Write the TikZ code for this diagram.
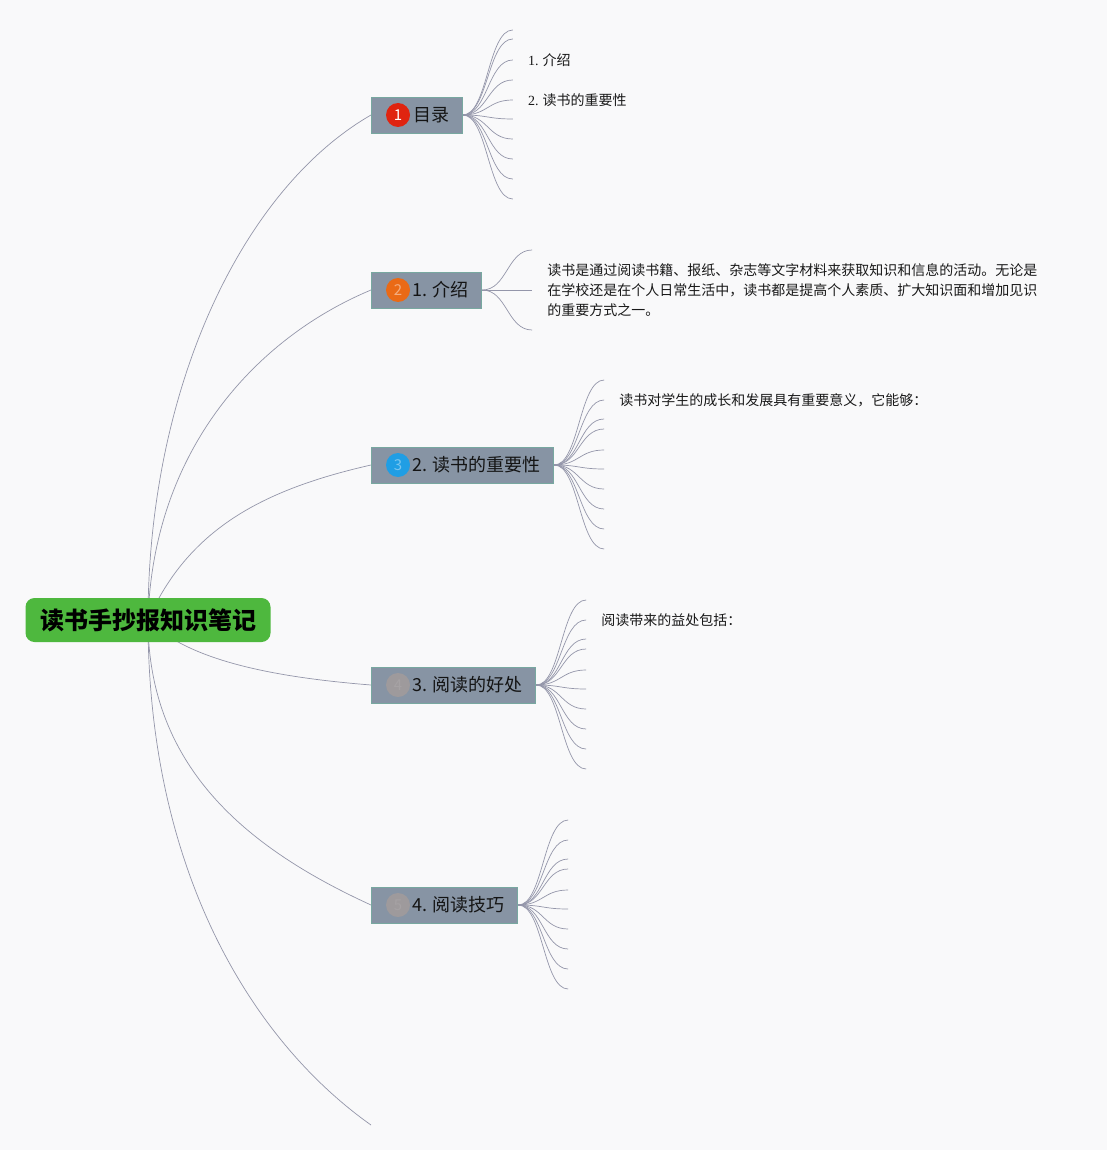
\documentclass[tikz,border=0pt]{standalone}
\usepackage{fontspec}
\setmainfont{Noto Sans CJK SC}
\newfontfamily\numfont{Liberation Serif}
\usetikzlibrary{positioning,calc,backgrounds}

\definecolor{bgcol}{RGB}{249,249,250}
\definecolor{rootfill}{RGB}{78,184,62}
\definecolor{topicfill}{RGB}{135,148,164}
\definecolor{topicline}{RGB}{120,168,160}
\definecolor{linkcol}{RGB}{148,150,170}
\definecolor{badgered}{RGB}{224,36,16}
\definecolor{badgeorange}{RGB}{234,106,22}
\definecolor{badgeblue}{RGB}{32,158,228}
\definecolor{badgegray}{RGB}{158,154,156}

\tikzset{
  root/.style={rectangle, rounded corners=9pt, fill=rootfill, minimum width=245pt, minimum height=44pt, inner sep=0pt, font=\fontsize{24}{26}\selectfont\bfseries},
  topic/.style={rectangle, fill=topicfill, draw=topicline, line width=0.8pt, anchor=west, minimum height=36pt, inner xsep=13pt, inner ysep=0pt, text=black!92, font=\fontsize{18}{20}\selectfont},
  badge/.style={circle, minimum size=24pt, inner sep=0pt, font=\fontsize{15}{15}\selectfont},
  link/.style={draw=linkcol, line width=0.7pt},
  leaf/.style={anchor=west, inner sep=0pt, align=left, text=black!90, font=\fontsize{14}{20}\selectfont},
}

\begin{document}
\begin{tikzpicture}[x=1pt, y=-1pt]

% root and topics
\node[root] (root) at (148,620) {读书手抄报知识笔记};

\node[topic] (t1) at (371,115) {\hspace*{29pt}目录};
\node[topic] (t2) at (371,290) {\hspace*{28pt}1. 介绍};
\node[topic] (t3) at (371,465) {\hspace*{28pt}2. 读书的重要性};
\node[topic] (t4) at (371,685) {\hspace*{28pt}3. 阅读的好处};
\node[topic] (t5) at (371,905) {\hspace*{28pt}4. 阅读技巧};
\coordinate (t6) at (371,1125);

% badges
\node[badge, fill=badgered, text=white] (n1) at ($(t1.west)+(27,0)$) {1};
\node[badge, fill=badgeorange, text=badgeorange!55!white] (n2) at ($(t2.west)+(27,0)$) {2};
\node[badge, fill=badgeblue, text=badgeblue!60!white] (n3) at ($(t3.west)+(27,0)$) {3};
\node[badge, fill=badgegray, text=badgegray!92!white] (n4) at ($(t4.west)+(27,0)$) {4};
\node[badge, fill=badgegray, text=badgegray!92!white] (n5) at ($(t5.west)+(27,0)$) {5};

% fan end points
\foreach \dy [count=\k] in {-85,-76,-55,-35,-15,4,24,44,64,84}
  \coordinate (t1-\k) at ($(t1.east)+(50,\dy)$);
\foreach \dy [count=\k] in {-40,0,40}
  \coordinate (t2-\k) at ($(t2.east)+(50,\dy)$);
\foreach \t in {t3,t4,t5}
  \foreach \dy [count=\k] in {-85,-65,-46,-36,-15,4,24,44,64,84}
    \coordinate (\t-\k) at ($(\t.east)+(50,\dy)$);

% leaves
\node[leaf] (l11) at ($(t1-3)+(15,0)$) {{\numfont 1.} 介绍};
\node[leaf] (l12) at ($(t1-5)+(15,0)$) {{\numfont 2.} 读书的重要性};
\node[leaf] (l21) at ($(t2-2)+(15,0)$) {读书是通过阅读书籍、报纸、杂志等文字材料来获取知识和信息的活动。无论是\\在学校还是在个人日常生活中，读书都是提高个人素质、扩大知识面和增加见识\\的重要方式之一。};
\node[leaf] (l31) at ($(t3-2)+(15,0)$) {读书对学生的成长和发展具有重要意义，它能够：};
\node[leaf] (l41) at ($(t4-2)+(15,0)$) {阅读带来的益处包括：};

\begin{scope}[on background layer]
\fill[bgcol] (0,0) rectangle (1107,1150);

% main branches
\draw[link] (root.center) .. controls +(0,-230) and +(-130,75) .. (t1.west);
\draw[link] (root.center) .. controls +(5,-170) and +(-115,48) .. (t2.west);
\draw[link] (root.center) .. controls +(40,-90) and +(-110,25) .. (t3.west);
\draw[link] (root.center) .. controls +(40,40) and +(-100,-8) .. (t4.west);
\draw[link] (root.center) .. controls +(0,150) and +(-120,-55) .. (t5.west);
\draw[link] (root.center) .. controls +(0,250) and +(-120,-85) .. (t6);

% fans
\foreach \k in {1,...,10}
  \draw[link] (t1.east) .. controls +(25,0) and +(-25,0) .. (t1-\k);
\foreach \k in {1,2,3}
  \draw[link] (t2.east) .. controls +(25,0) and +(-25,0) .. (t2-\k);
\foreach \t in {t3,t4,t5}
  \foreach \k in {1,...,10}
    \draw[link] (\t.east) .. controls +(25,0) and +(-25,0) .. (\t-\k);
\end{scope}

\end{tikzpicture}
\end{document}
